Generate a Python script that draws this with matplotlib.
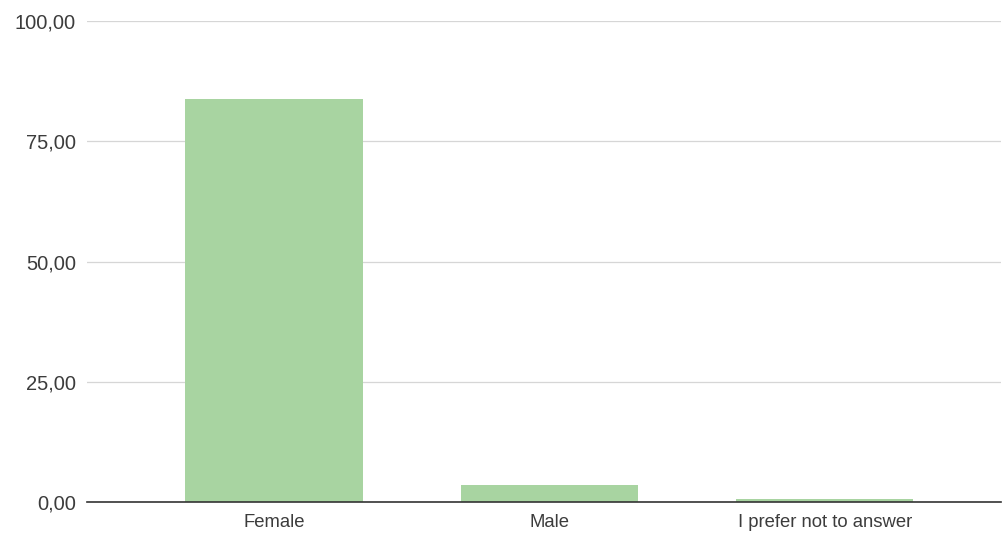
import matplotlib
matplotlib.use("Agg")
import matplotlib.pyplot as plt
from matplotlib.ticker import FuncFormatter

categories = ["Female", "Male", "I prefer not to answer"]
values = [83.8, 3.6, 0.7]
yticks = [0, 25, 50, 75, 100]

plt.rcParams['font.family'] = ['Liberation Sans', 'DejaVu Sans']

fig = plt.figure(figsize=(10.02, 5.38), dpi=100)
ax = fig.add_axes([0.0868, 0.066, 0.912, 0.895])

xs = list(range(len(categories)))
ax.bar(xs, values, width=0.645, color="#a8d4a1", zorder=2)

ax.set_xlim(-0.68, 2.64)
ax.set_ylim(0, 100)
ax.set_yticks(yticks)
ax.yaxis.set_major_formatter(FuncFormatter(lambda v, p: f"{v:.2f}".replace(".", ",")))
ax.set_xticks(xs)
ax.set_xticklabels(categories)

ax.grid(axis="y", color="#d6d6d6", linewidth=0.9, zorder=0)
for side in ["top", "right", "left"]:
    ax.spines[side].set_visible(False)
ax.spines["bottom"].set_color("#333333")
ax.spines["bottom"].set_linewidth(1.2)
ax.spines["bottom"].set_zorder(3)
ax.tick_params(axis="x", length=0, labelsize=13.3, labelcolor="#3c3c3c", pad=8)
ax.tick_params(axis="y", length=0, labelsize=14.5, labelcolor="#3c3c3c", pad=8)

fig.savefig("out.png", dpi=100)
